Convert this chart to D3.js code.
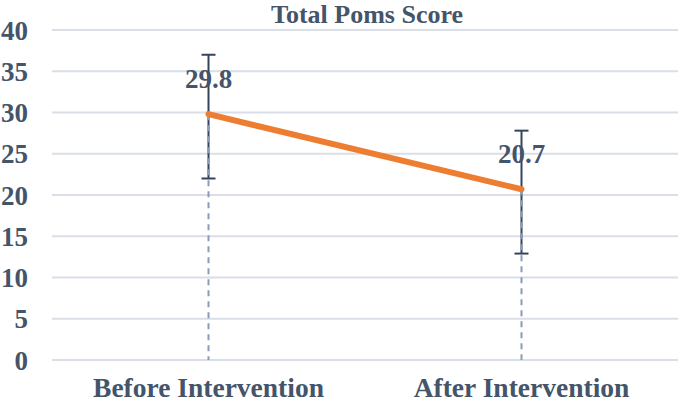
<!DOCTYPE html>
<html>
<head>
<meta charset="utf-8">
<script src="https://cdn.jsdelivr.net/npm/d3@7"></script>
<style>
  body { margin: 0; background: #fff; }
  text { font-family: "Liberation Serif", "Times New Roman", serif; font-weight: bold; fill: #44546a; }
</style>
</head>
<body>
<svg id="chart"></svg>
<script>
const categories = ['Before Intervention', 'After Intervention'];
const scores = [29.8, 20.7];
const errUpper = [37.0, 27.8];
const errLower = [22.0, 12.9];
const yTicks = [0, 5, 10, 15, 20, 25, 30, 35, 40];
const title = 'Total Poms Score';

const width = 680;
const height = 404;
const marginLeft = 52;
const marginRight = 678;
const plotTop = 30;
const plotBottom = 360;

const svg = d3.select('#chart')
    .attr('width', width)
    .attr('height', height)
    .attr('viewBox', [0, 0, width, height]);

const x = d3.scaleBand()
    .domain(categories)
    .range([marginLeft, marginRight]);
const y = d3.scaleLinear()
    .domain([0, 40])
    .range([plotBottom, plotTop]);
const cx = (d) => x(d) + x.bandwidth() / 2;

// gridlines
svg.append('g')
    .selectAll('line')
    .data(yTicks)
    .join('line')
    .attr('x1', marginLeft)
    .attr('x2', marginRight)
    .attr('y1', (d) => y(d))
    .attr('y2', (d) => y(d))
    .attr('stroke', '#d9dee7')
    .attr('stroke-width', 1.8);

// y axis labels
const yAxis = d3.axisLeft(y).tickValues(yTicks).tickSize(0).tickPadding(0);
svg.append('g')
    .attr('transform', `translate(28,0)`)
    .call(yAxis)
    .call((g) => g.select('.domain').remove())
    .call((g) => g.selectAll('text')
        .attr('fill', '#44546a')
        .style('font-size', '27px')
        .attr('dy', '0.34em'));

// x axis labels
const xAxis = d3.axisBottom(x).tickSize(0).tickPadding(0);
svg.append('g')
    .attr('transform', `translate(0,${plotBottom})`)
    .call(xAxis)
    .call((g) => g.select('.domain').remove())
    .call((g) => g.selectAll('text')
        .attr('fill', '#44546a')
        .style('font-size', '27.5px')
        .attr('dy', '0')
        .attr('y', 37));

// error bars
const err = svg.append('g')
    .selectAll('g')
    .data(categories)
    .join('g')
    .attr('stroke', '#34445c')
    .attr('stroke-width', 2);
err.append('line')
    .attr('x1', cx).attr('x2', cx)
    .attr('y1', (d, i) => y(errUpper[i]))
    .attr('y2', (d, i) => y(errLower[i]));
err.append('line')
    .attr('x1', (d) => cx(d) - 7).attr('x2', (d) => cx(d) + 7)
    .attr('y1', (d, i) => y(errUpper[i]))
    .attr('y2', (d, i) => y(errUpper[i]));
err.append('line')
    .attr('x1', (d) => cx(d) - 7).attr('x2', (d) => cx(d) + 7)
    .attr('y1', (d, i) => y(errLower[i]))
    .attr('y2', (d, i) => y(errLower[i]));

// drop lines
svg.append('g')
    .selectAll('line')
    .data(categories)
    .join('line')
    .attr('x1', cx).attr('x2', cx)
    .attr('y1', (d, i) => y(scores[i]))
    .attr('y2', y(0))
    .attr('stroke', '#8a9bb5')
    .attr('stroke-width', 2)
    .attr('stroke-dasharray', '6,5');

// main line
const line = d3.line()
    .x((d, i) => cx(categories[i]))
    .y((d) => y(d));
svg.append('path')
    .datum(scores)
    .attr('d', line)
    .attr('fill', 'none')
    .attr('stroke', '#ed7d31')
    .attr('stroke-width', 6)
    .attr('stroke-linecap', 'round');

// data labels
svg.append('g')
    .selectAll('text')
    .data(categories)
    .join('text')
    .attr('x', cx)
    .attr('y', (d, i) => y(scores[i]) - 26)
    .attr('text-anchor', 'middle')
    .style('font-size', '27px')
    .text((d, i) => scores[i].toFixed(1));

// title
svg.append('text')
    .attr('x', 367)
    .attr('y', 23)
    .attr('text-anchor', 'middle')
    .style('font-size', '26px')
    .text(title);
</script>
</body>
</html>
